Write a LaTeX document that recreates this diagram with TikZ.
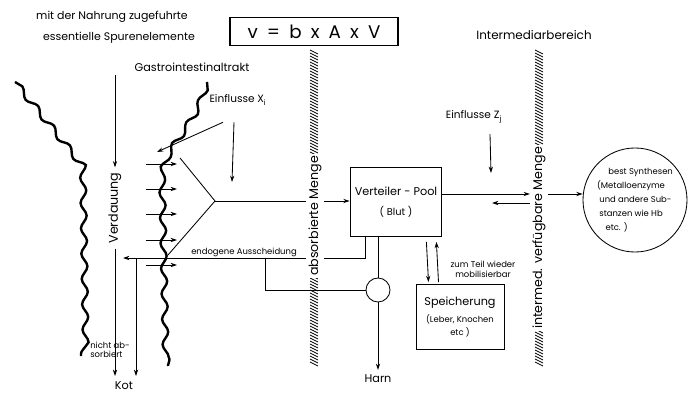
\documentclass[tikz,border=0pt]{standalone}
\usepackage{fontspec}
\setmainfont{Poppins}
\usetikzlibrary{arrows.meta,positioning,calc,decorations.pathmorphing}

\tikzset{
  wavy/.style={line width=1.7pt, decorate, decoration={snake, amplitude=2.1pt, segment length=18pt}},
  walltext/.style={rotate=90, fill=white, inner sep=1.5pt, font=\fontsize{9}{10}\selectfont},
  box/.style={draw, line width=0.7pt, align=center},
  small/.style={font=\fontsize{6}{7}\selectfont, inner sep=1pt},
}

\begin{document}
\begin{tikzpicture}[x=0.025cm, y=-0.025cm, >={Stealth[length=4.5pt,width=3pt]}, line width=0.6pt, font=\fontsize{8}{9.5}\selectfont]
  \useasboundingbox (0,0) rectangle (691,394);

  % Header
  \node[font=\fontsize{7.8}{9}\selectfont] (nahrung) at (112,17) {mit der Nahrung zugefuhrte};
  \node[font=\fontsize{7.8}{9}\selectfont] (spuren) at (119,38) {essentielle Spurenelemente};
  \node[draw, line width=1pt, minimum width=4.2cm, minimum height=0.7cm, font=\fontsize{13}{14}\selectfont] (formel) at (314,31.5) {v\enspace=\enspace b\enspace x\enspace A\enspace x\enspace V};
  \node[font=\fontsize{8.5}{10}\selectfont] (intermed) at (534,35) {Intermediarbereich};
  \node (gastro) at (192,67) {Gastrointestinaltrakt};

  % Hatched walls
  \foreach \xw in {314,539} {
    \foreach \y in {50,53,...,362}
      \draw[line width=0.5pt] (\xw-4,\y) -- (\xw+4,\y+4);
  }
  \node[walltext] (absmenge) at (315,216) {absorbierte Menge};
  \node[walltext] (vfmenge) at (539,238) {intermed. verfügbare Menge};

  % Intestine walls
  \draw[wavy] (15,82) -- (78,160) -- (81,356);
  \draw[wavy] (207,82) .. controls (195,125) and (165,140) .. (164,172) -- (168,366);

  % Verdauung / Kot
  \node[rotate=90, font=\fontsize{9}{10}\selectfont] (verd) at (115,208) {Verdauung};
  \draw[->] (115,75) -- (verd.east);
  \node[inner sep=1pt] (kot) at (124,386) {Kot};
  \node[font=\fontsize{6}{6.5}\selectfont, align=left, inner sep=0pt] (nicht) at (110,350) {nicht ab-\\sorbiert};
  \draw[->] (verd.west) -- (115,376);
  \draw[->] (136,258) -- (136,376);

  % Absorption
  \foreach \y in {164,189,214,240,265}
    \draw[->] (146,\y) -- (177,\y);
  \node[font=\fontsize{7.5}{9}\selectfont] (einx) at (238,100) {Einflusse X\textsubscript{i}};
  \draw[->] ([shift={(-15,12)}]einx.south) -- (157,152);
  \draw[->] ([shift={(-4,12)}]einx.south) -- (232,182);
  \coordinate (apex) at (215,201);
  \draw (180,158) -- (apex) -- (168,255);

  % Pool
  \node[box, minimum width=2.22cm, minimum height=1.72cm] (pool) at (396,202)
    {Verteiler - Pool\\[5pt]\fontsize{7}{8}\selectfont ( Blut )};
  \draw (apex) -- (absmenge.north |- apex);
  \draw[->] (absmenge.south |- apex) -- (pool.west |- apex);

  % Endogene Ausscheidung
  \coordinate (endor) at (365,258);
  \node[small] (endo) at (244,252) {endogene Ausscheidung};
  \draw (pool.south -| endor) -- (endor) -- (absmenge.south |- endor);
  \draw[->] (absmenge.north |- endor) -- (123,258);

  % Harn
  \node[draw, circle, minimum size=0.6cm, inner sep=0pt] (ventil) at (378,290) {};
  \node (harn) at (378,379) {Harn};
  \draw (pool.south -| ventil) -- (ventil.north);
  \draw (ventil.west) -- (265,290) -- (265,258);
  \draw[->] (ventil.south) -- (harn.north);

  % Speicherung
  \node[box, minimum width=2.2cm, minimum height=1.62cm] (speicher) at (460,317)
    {Speicherung\\[3pt]{\fontsize{6}{8}\selectfont (Leber, Knochen}\\{\fontsize{6}{8}\selectfont etc )}};
  \draw[->] ([shift={(-16,5)}]pool.south east) -- ([shift={(13,-2)}]speicher.north west);
  \draw[->] ([shift={(23,-2)}]speicher.north west) -- ([shift={(-6,5)}]pool.south east);
  \node[small, align=center] (mobil) at (483,269) {zum Teil wieder\\mobilisierbar};

  % Intermediarbereich
  \coordinate (pr) at (441,194);
  \coordinate (rl) at (492,203);
  \node[font=\fontsize{7.5}{9}\selectfont] (einz) at (474,117) {Einflusse Z\textsubscript{j}};
  \draw[->] ([shift={(16,6)}]einz.south) -- (491,173);
  \draw[->] (pr) -- (vfmenge.north |- pr);
  \draw[->] (vfmenge.north |- rl) -- (rl);
  \node[draw, circle, minimum size=2.6cm, inner sep=0pt, align=left, font=\fontsize{6}{10}\selectfont] (synth) at (635,200)
    {\hspace*{8pt}best Synthesen\\(Metalloenzyme\\\ und andere Sub-\\\ stanzen wie Hb\\\hspace*{6pt}etc. )};
  \draw[->] (vfmenge.south |- pr) -- (synth.west |- pr);
\end{tikzpicture}
\end{document}
